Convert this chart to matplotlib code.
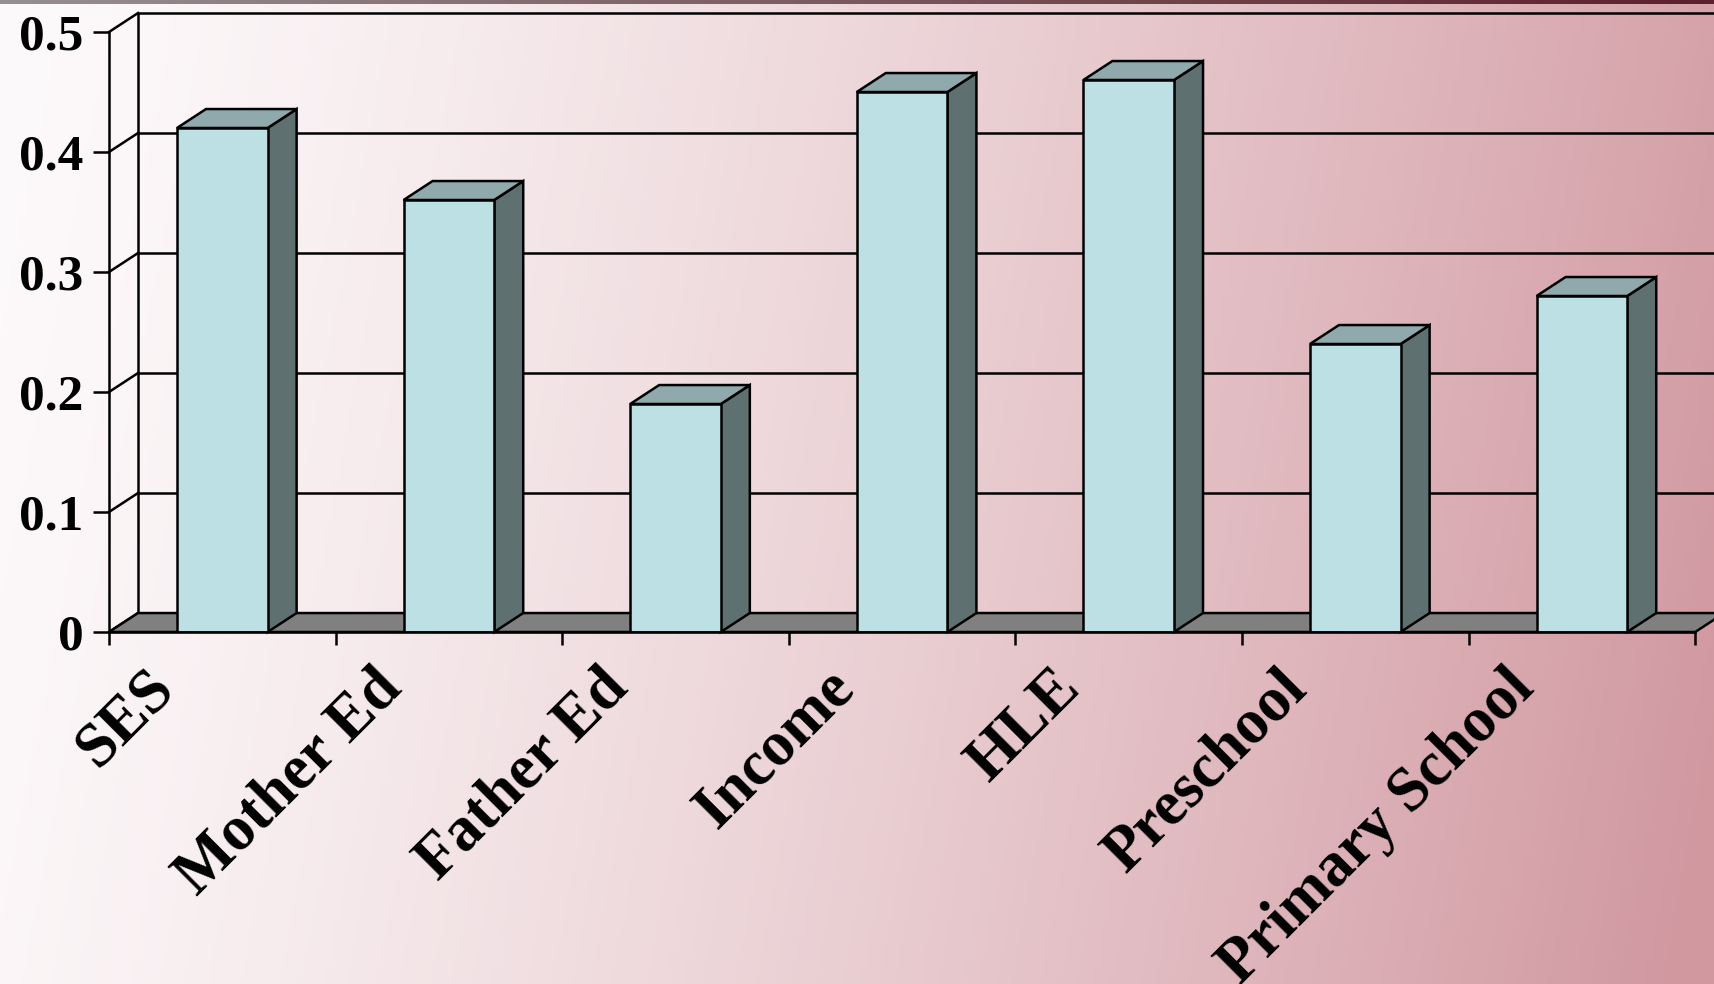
import numpy as np
import matplotlib
matplotlib.use("Agg")
import matplotlib.pyplot as plt
from matplotlib.patches import Polygon

# values per predictor
categories = ["SES", "Mother Ed", "Father Ed", "Income", "HLE", "Preschool", "Primary School"]
values = [0.42, 0.36, 0.19, 0.45, 0.46, 0.24, 0.28]
yticks = [0, 0.1, 0.2, 0.3, 0.4, 0.5]
ytick_labels = ["0", "0.1", "0.2", "0.3", "0.4", "0.5"]

W, H = 1715, 984
FONT = "Liberation Serif"
FRONT = "#bce0e3"
TOP = "#8fa9ac"
SIDE = "#5e7070"
FLOOR = "#808080"
LW = 1.8
DX, DY = 0.128, 0.0158   # depth of the 3d effect, in data units
BAR_W = 0.4

fig = plt.figure(figsize=(W / 100, H / 100), dpi=100)

# background gradient, white on the left to rose on the right
bg = fig.add_axes([0, 0, 1, 1], zorder=-10)
xx, yy = np.meshgrid(np.linspace(0, 1, 400), np.linspace(0, 1, 240))
t = np.clip(0.92 * xx + 0.1 * yy, 0, 1) ** 1.35
c0 = np.array([253, 250, 251]) / 255
c1 = np.array([209, 152, 160]) / 255
img = c0 + (c1 - c0) * t[..., None]
bg.imshow(img, extent=[0, 1, 0, 1], aspect="auto", origin="upper")
# thin dark band along the top edge
band = np.linspace(0, 1, 400)[None, :, None]
b0 = np.array([150, 144, 145]) / 255
b1 = np.array([92, 32, 44]) / 255
bg.imshow(b0 + (b1 - b0) * band, extent=[0, 1, 1 - 4 / H, 1], aspect="auto")
bg.set_xlim(0, 1)
bg.set_ylim(0, 1)
bg.axis("off")

n = len(categories)
x_left = 109
px_per_cat = 226.6
ax = fig.add_axes([x_left / W, (H - 632) / H, (W - x_left) / W, 600 / H])
ax.set_facecolor("none")
ax.set_xlim(0, (W - x_left) / px_per_cat)
ax.set_ylim(0, 0.5)

# back wall: gridlines, left edge and the connecting diagonals
ax.hlines([y + DY for y in yticks[1:]], DX, n + DX, color="black", lw=LW, zorder=1, clip_on=False)
ax.vlines(DX, DY, 0.5 + DY, color="black", lw=LW, zorder=1, clip_on=False)
for y in yticks:
    ax.plot([0, DX], [y, y + DY], color="black", lw=LW, zorder=1, clip_on=False)

# floor
ax.add_patch(Polygon([(0, 0), (n, 0), (n + DX, DY), (DX, DY)], closed=True,
                     facecolor=FLOOR, edgecolor="black", lw=LW, zorder=2, clip_on=False))

centres = np.arange(n) + 0.5
bars = ax.bar(centres, values, width=BAR_W, color=FRONT, edgecolor="black", lw=LW, zorder=4)
for b in bars:
    l = b.get_x()
    r = l + b.get_width()
    v = b.get_height()
    ax.add_patch(Polygon([(r, 0), (r + DX, DY), (r + DX, v + DY), (r, v)], closed=True,
                         facecolor=SIDE, edgecolor="black", lw=LW, zorder=3, clip_on=False))
    ax.add_patch(Polygon([(l, v), (r, v), (r + DX, v + DY), (l + DX, v + DY)], closed=True,
                         facecolor=TOP, edgecolor="black", lw=LW, zorder=3, clip_on=False))

for s in ["top", "right"]:
    ax.spines[s].set_visible(False)
for s in ["left", "bottom"]:
    ax.spines[s].set_linewidth(LW)
    ax.spines[s].set_zorder(5)
ax.spines["bottom"].set_bounds(0, n)

ax.set_yticks(yticks)
ax.set_yticklabels(ytick_labels, fontfamily=FONT, fontweight="bold", fontsize=37)
ax.tick_params(axis="y", length=11.5, width=LW, pad=7)
ax.set_xticks(np.arange(n + 1))
ax.set_xticklabels([])
ax.tick_params(axis="x", length=9.5, width=LW)

for c, lab in zip(centres, categories):
    ax.annotate(lab, xy=(c, 0), xytext=(-46, -58), textcoords="offset pixels",
                rotation=45, rotation_mode="anchor", ha="right", va="baseline",
                fontfamily=FONT, fontweight="bold", fontsize=45, annotation_clip=False)

fig.savefig("out.png", dpi=100)
